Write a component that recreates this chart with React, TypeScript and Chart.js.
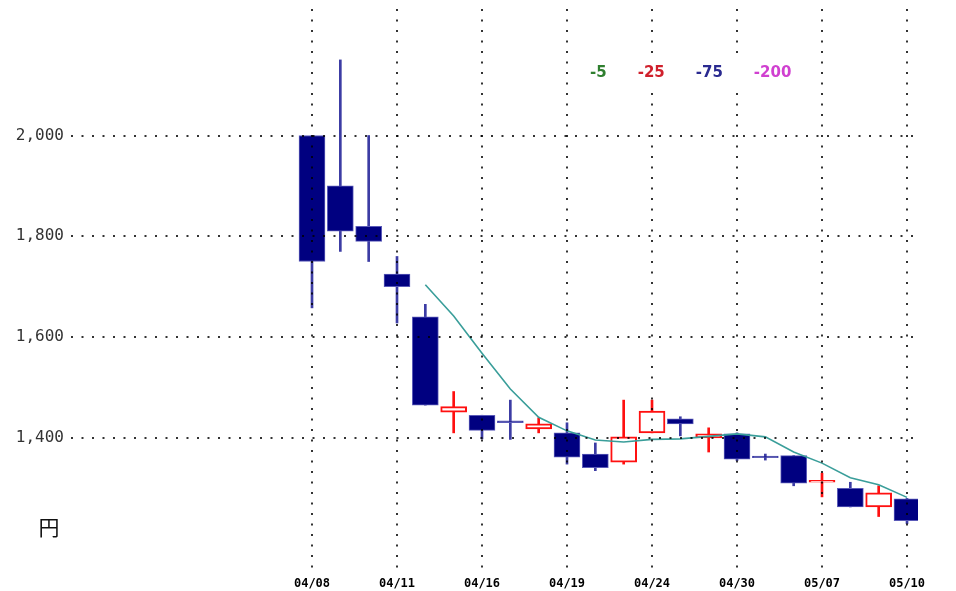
import React, { useEffect, useRef } from "react";
import { Chart, registerables } from "chart.js";

Chart.register(...registerables);

// ---- data ----
const dates = [
  "04/08", "04/09", "04/10", "04/11", "04/12", "04/15", "04/16", "04/17",
  "04/18", "04/19", "04/22", "04/23", "04/24", "04/25", "04/26", "04/30",
  "05/01", "05/02", "05/07", "05/08", "05/09", "05/10",
];
const opens = [2000, 1900, 1820, 1725, 1640, 1451, 1445, 1434, 1418, 1410, 1368, 1352, 1410, 1438, 1400, 1408, 1364, 1365, 1312, 1300, 1263, 1279];
const closes = [1750, 1810, 1790, 1700, 1465, 1462, 1415, 1430, 1428, 1362, 1341, 1402, 1453, 1428, 1408, 1358, 1361, 1310, 1316, 1263, 1291, 1236];
const highs = [2000, 2150, 2000, 1760, 1665, 1492, 1445, 1475, 1440, 1430, 1390, 1475, 1475, 1442, 1420, 1410, 1368, 1365, 1330, 1312, 1305, 1280];
const lows = [1658, 1770, 1750, 1628, 1465, 1410, 1398, 1397, 1410, 1348, 1335, 1348, 1410, 1404, 1372, 1355, 1356, 1305, 1283, 1263, 1244, 1230];
const ma5: (number | null)[] = [null, null, null, null, 1704, 1642, 1568, 1497, 1441, 1414, 1396, 1392, 1397, 1398, 1403, 1408, 1402, 1372, 1350, 1321, 1307, 1282];

const yTickValues = [1400, 1600, 1800, 2000];
const xTickIndices = [0, 3, 6, 9, 12, 15, 18, 21];
const legendLabels = ["-5", "-25", "-75", "-200"];
const legendColors = ["#2f7f2f", "#d0202c", "#2a2a90", "#d040d0"];
const unitLabel = "円";

export default function App() {
  const ref = useRef<HTMLCanvasElement | null>(null);

  useEffect(() => {
    if (!ref.current) return;
    const isUp = (i: number) => closes[i] >= opens[i];

    const overlay = {
      id: "overlay",
      afterDraw(chart: any) {
        const ctx = chart.ctx;
        ctx.save();
        ctx.fillStyle = "#ffffff";
        ctx.fillRect(580, 60, 222, 26);
        ctx.font = "bold 15px 'DejaVu Sans'";
        ctx.textBaseline = "middle";
        ctx.textAlign = "left";
        let x = 590;
        legendLabels.forEach((t, i) => {
          ctx.fillStyle = legendColors[i];
          ctx.fillText(t, x, 73);
          x += ctx.measureText(t).width + 31;
        });
        ctx.font = "21px 'Noto Sans CJK JP'";
        ctx.textAlign = "center";
        ctx.fillStyle = "#111";
        ctx.fillText(unitLabel, 49, 527);
        ctx.restore();
      },
    };

    const dash = [2, 8.5];
    const gridColor = "rgba(0,0,0,0.8)";
    const zeroPad = (s: any) => {
      s.paddingTop = 0;
      s.paddingBottom = 0;
      s.paddingLeft = 0;
      s.paddingRight = 0;
    };

    const chart = new Chart(ref.current, {
      type: "bar",
      data: {
        datasets: [
          {
            type: "line",
            label: "MA5",
            data: ma5.map((v, i) => ({ x: i, y: v })) as any,
            borderColor: "#3a9e9a",
            borderWidth: 1.6,
            pointRadius: 0,
            tension: 0,
            order: 0,
          } as any,
          {
            type: "bar",
            label: "body",
            data: opens.map((o, i) => ({ x: i, y: [o, closes[i]] })) as any,
            backgroundColor: (c: any) => (isUp(c.dataIndex) ? "#ffffff" : "#000080"),
            borderColor: (c: any) => (isUp(c.dataIndex) ? "#ff1010" : "#5a5ab8"),
            borderWidth: (c: any) => (isUp(c.dataIndex) ? 2 : 1),
            borderSkipped: false,
            barThickness: 26,
            grouped: false,
            order: 1,
          } as any,
          {
            type: "bar",
            label: "wick",
            data: lows.map((l, i) => ({ x: i, y: [l, highs[i]] })) as any,
            backgroundColor: (c: any) => (isUp(c.dataIndex) ? "#ff1010" : "#3c3ca4"),
            borderWidth: 0,
            barThickness: 2,
            grouped: false,
            order: 2,
          } as any,
        ],
      },
      options: {
        animation: false,
        responsive: false,
        devicePixelRatio: 1,
        layout: { padding: { top: 9, right: 38, bottom: 0, left: 0 } },
        plugins: { legend: { display: false }, tooltip: { enabled: false } },
        scales: {
          x: {
            type: "linear",
            min: -8.506,
            max: 21.388,
            offset: false,
            grid: { offset: false, color: gridColor, lineWidth: 2, drawTicks: false, z: 1, borderDash: dash } as any,
            border: { display: false, dash },
            afterBuildTicks: (s: any) => {
              s.ticks = xTickIndices.map((v) => ({ value: v }));
            },
            afterFit: (s: any) => {
              s.height = 16;
              zeroPad(s);
            },
            ticks: {
              autoSkip: false,
              maxRotation: 0,
              minRotation: 0,
              padding: 2,
              color: "#000",
              font: { family: "'DejaVu Sans Mono'", size: 12, weight: "bold" },
              callback: (v: any) => dates[Math.round(Number(v))] ?? "",
            },
          },
          y: {
            type: "linear",
            min: 1128,
            max: 2251,
            grid: { color: gridColor, lineWidth: 2, drawTicks: false, z: 1, borderDash: dash } as any,
            border: { display: false, dash },
            afterBuildTicks: (s: any) => {
              s.ticks = yTickValues.map((v) => ({ value: v }));
            },
            afterFit: (s: any) => {
              s.width = 71;
              zeroPad(s);
            },
            ticks: {
              padding: 7,
              color: "#333",
              font: { family: "'DejaVu Sans Mono'", size: 16 },
              callback: (v: any) => Number(v).toLocaleString("en-US"),
            },
          },
        },
      },
      plugins: [overlay],
    });
    return () => chart.destroy();
  }, []);

  return (
    <div style={{ position: "fixed", left: 0, top: 0, width: 956, height: 591, background: "#fff" }}>
      <canvas ref={ref} width={956} height={591} style={{ display: "block" }} />
    </div>
  );
}
